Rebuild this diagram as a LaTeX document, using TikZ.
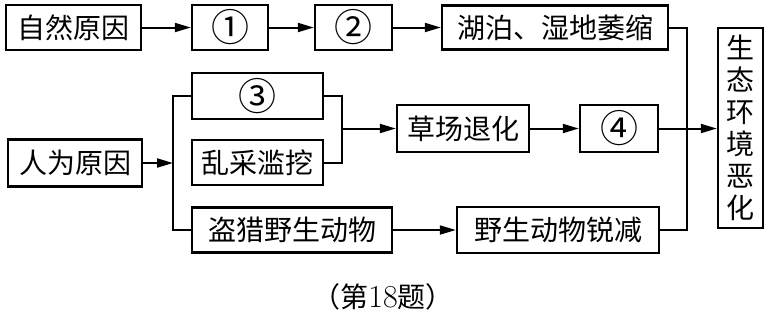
\documentclass[tikz,border=0pt]{standalone}
\usepackage{fontspec}
\newfontfamily\cjk{Noto Sans CJK SC}
\usetikzlibrary{arrows.meta}

\begin{document}
\begin{tikzpicture}[x=0.5pt, y=-0.5pt, font=\cjk\fontsize{14}{16}\selectfont,
    box/.style={draw=black, line width=1.2pt, rectangle, inner sep=0pt},
    numbox/.style={box, font=\cjk\fontsize{19}{20}\selectfont},
    link/.style={line width=1pt},
    arr/.style={line width=1pt, -{Triangle[length=8pt,width=4.5pt]}}]
  \useasboundingbox (0,0) rectangle (772,313);

  % top row
  \node[box, minimum width=67.5pt, minimum height=22.5pt] (nature) at (73.5,27.5) {自然原因};
  \node[numbox, minimum width=38pt, minimum height=22.5pt] (c1) at (230,27.5) {①};
  \node[numbox, minimum width=38.5pt, minimum height=22.5pt] (c2) at (353.5,27.5) {②};
  \node[box, minimum width=113pt, minimum height=22pt] (lake) at (555,27.5) {湖泊、湿地萎缩};

  % middle rows
  \node[numbox, minimum width=65.5pt, minimum height=23pt] (c3) at (257.5,96) {③};
  \node[box, minimum width=65.5pt, minimum height=22.5pt] (dig) at (257.5,162.5) {乱采滥挖};
  \node[box, minimum width=67pt, minimum height=23.5pt] (human) at (75,163) {人为原因};
  \node[box, minimum width=66pt, minimum height=23.5pt] (grass) at (463,128.5) {草场退化};
  \node[numbox, minimum width=39pt, minimum height=23.5pt] (c4) at (619,128.5) {④};

  % bottom row
  \node[box, minimum width=100pt, minimum height=22.5pt] (hunt) at (292,230) {盗猎野生动物};
  \node[box, minimum width=101pt, minimum height=23pt] (wild) at (558,230) {野生动物锐减};

  % result
  \node[box, minimum width=22.5pt, minimum height=100pt, align=center] (eco) at (740.5,128)
    {生\\态\\环\\境\\恶\\化};

  \node[font=\cjk\fontsize{14}{16}\selectfont] (cap) at (383,297) {（第{\rmfamily\fontsize{16}{16}\selectfont 18}题）};

  % junctions
  \coordinate (ltop) at (173,96);
  \coordinate (lbot) at (173,230);
  \coordinate (mtop) at (342,96);
  \coordinate (mbot) at (342,162.5);
  \coordinate (rtop) at (687,27.5);
  \coordinate (rbot) at (687,230);

  \draw[arr] (nature) -- (c1);
  \draw[arr] (c1) -- (c2);
  \draw[arr] (c2) -- (lake);

  \draw[link] (c3.west) -- (ltop) -- (lbot) -- (hunt.west);
  \draw[arr] (human.east) -- (human.east -| ltop);
  \draw[link] (c3.east) -- (mtop) -- (mbot) -- (dig.east);
  \draw[arr] (mtop |- grass) -- (grass.west);
  \draw[arr] (grass) -- (c4);
  \draw[arr] (c4.east) -- (c4.east -| eco.west);
  \draw[arr] (hunt) -- (wild);

  \draw[link] (lake.east) -- (rtop) -- (rbot) -- (wild.east);
\end{tikzpicture}
\end{document}
